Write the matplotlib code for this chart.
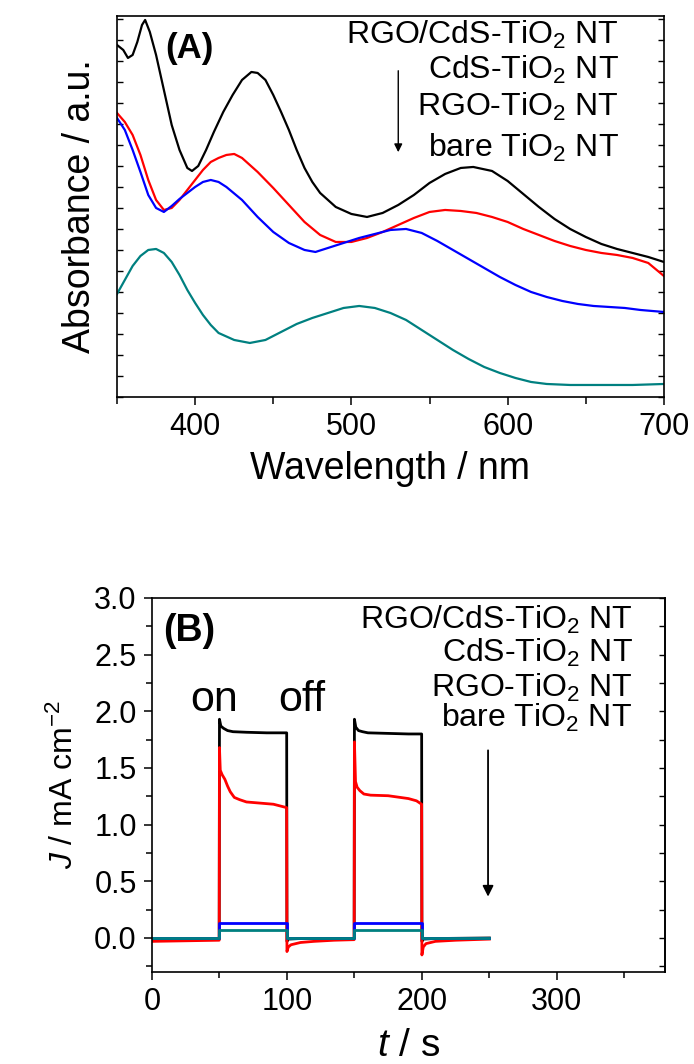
import numpy as np
import matplotlib
matplotlib.use("Agg")
import matplotlib.pyplot as plt
from matplotlib.ticker import MultipleLocator, FormatStrFormatter

plt.rcParams['font.family'] = ['Liberation Sans', 'DejaVu Sans']
plt.rcParams['mathtext.fontset'] = 'custom'
plt.rcParams['mathtext.rm'] = 'Liberation Sans'
plt.rcParams['mathtext.it'] = 'Liberation Sans:italic'
plt.rcParams['mathtext.bf'] = 'Liberation Sans:bold'

# ---- (A) UV-vis absorbance spectra ----
wl_black = [350, 354, 357, 360, 363, 366, 368, 371, 375, 380, 385, 390, 395, 398, 402, 407,
            412, 418, 424, 430, 436, 440, 445, 450, 455, 460, 465, 470, 475, 480, 490, 500,
            510, 520, 530, 540, 550, 560, 570, 578, 590, 600, 610, 620, 630, 640, 650, 660,
            670, 680, 690, 700]
abs_black = [1.76, 1.735, 1.695, 1.71, 1.775, 1.86, 1.885, 1.825, 1.71, 1.535, 1.36, 1.235,
             1.145, 1.13, 1.155, 1.235, 1.325, 1.425, 1.51, 1.585, 1.625, 1.62, 1.585, 1.51,
             1.425, 1.335, 1.235, 1.145, 1.075, 1.02, 0.95, 0.915, 0.9, 0.92, 0.96, 1.01,
             1.07, 1.115, 1.145, 1.15, 1.13, 1.08, 1.015, 0.95, 0.89, 0.84, 0.80, 0.765,
             0.74, 0.72, 0.70, 0.675]

wl_red = [350, 355, 360, 365, 370, 375, 380, 385, 390, 395, 400, 405, 410, 415, 420, 425,
          430, 435, 440, 450, 460, 470, 480, 490, 500, 510, 520, 530, 540, 550, 560, 570,
          580, 590, 600, 610, 620, 630, 640, 650, 660, 670, 680, 690, 700]
abs_red = [1.42, 1.375, 1.31, 1.21, 1.085, 0.985, 0.935, 0.945, 0.985, 1.035, 1.085, 1.135,
           1.175, 1.195, 1.21, 1.215, 1.195, 1.16, 1.125, 1.045, 0.96, 0.875, 0.81, 0.775,
           0.775, 0.795, 0.825, 0.86, 0.895, 0.925, 0.935, 0.93, 0.92, 0.90, 0.875, 0.84,
           0.81, 0.78, 0.755, 0.735, 0.72, 0.71, 0.695, 0.67, 0.605]

wl_blue = [350, 355, 360, 365, 370, 375, 380, 385, 390, 395, 400, 405, 410, 415, 420, 430,
           440, 450, 460, 470, 477, 485, 495, 505, 515, 525, 535, 545, 555, 565, 575, 585,
           595, 605, 615, 625, 635, 645, 655, 665, 675, 685, 700]
abs_blue = [1.395, 1.335, 1.235, 1.125, 1.01, 0.945, 0.925, 0.955, 0.99, 1.02, 1.05, 1.075,
            1.085, 1.075, 1.05, 0.985, 0.90, 0.825, 0.77, 0.735, 0.725, 0.745, 0.77, 0.795,
            0.815, 0.835, 0.84, 0.82, 0.78, 0.735, 0.69, 0.645, 0.60, 0.56, 0.525, 0.50,
            0.48, 0.465, 0.455, 0.45, 0.445, 0.435, 0.425]

wl_teal = [350, 355, 360, 365, 370, 375, 380, 385, 390, 395, 400, 405, 410, 415, 425, 435,
           445, 455, 465, 475, 485, 495, 505, 515, 525, 535, 545, 555, 565, 575, 585, 595,
           605, 615, 625, 640, 660, 680, 700]
abs_teal = [0.515, 0.585, 0.655, 0.705, 0.735, 0.74, 0.72, 0.675, 0.61, 0.535, 0.47, 0.41,
            0.36, 0.32, 0.285, 0.27, 0.285, 0.325, 0.365, 0.395, 0.42, 0.445, 0.455, 0.445,
            0.42, 0.385, 0.335, 0.285, 0.235, 0.19, 0.15, 0.12, 0.095, 0.075, 0.065, 0.06,
            0.06, 0.06, 0.065]

# ---- (B) transient photocurrent, light on/off every 50 s ----
t_black = [0, 49.8, 50, 51, 53, 56, 60, 70, 85, 99.8, 100, 101, 110, 149.8, 150, 151, 153,
           156, 160, 175, 190, 199.8, 200, 201, 210, 250]
j_black = [-0.01, -0.01, 1.93, 1.87, 1.85, 1.83, 1.82, 1.815, 1.81, 1.81, -0.03, -0.01,
           -0.005, -0.005, 1.93, 1.86, 1.83, 1.82, 1.81, 1.805, 1.80, 1.80, -0.03, -0.01,
           -0.005, 0.0]

t_red = [0, 49.8, 50, 50.6, 52, 54, 56, 58, 61, 65, 70, 80, 90, 99.8, 100, 101, 103, 110,
         120, 135, 149.8, 150, 150.8, 152, 154, 157, 162, 175, 190, 196, 199.8, 200, 201,
         203, 210, 225, 250]
j_red = [-0.03, -0.02, 1.68, 1.48, 1.44, 1.40, 1.34, 1.29, 1.24, 1.22, 1.20, 1.19, 1.18,
         1.15, -0.12, -0.08, -0.06, -0.04, -0.03, -0.02, -0.015, 1.73, 1.38, 1.33, 1.30,
         1.27, 1.26, 1.255, 1.23, 1.21, 1.18, -0.15, -0.08, -0.05, -0.03, -0.02, -0.01]

t_step = [0, 50, 50, 100, 100, 150, 150, 200, 200, 250]
j_blue = [0, 0, 0.13, 0.13, 0, 0, 0.13, 0.13, 0, 0]
j_teal = [0, 0, 0.07, 0.07, 0, 0, 0.07, 0.07, 0, 0]

samples = ['RGO/CdS-TiO$_2$ NT', 'CdS-TiO$_2$ NT', 'RGO-TiO$_2$ NT', 'bare TiO$_2$ NT']
teal = '#008080'

fig = plt.figure(figsize=(6.94, 10.64), dpi=100)
axA = fig.add_axes([0.1686, 0.6269, 0.788, 0.3581])
axB = fig.add_axes([0.219, 0.0865, 0.739, 0.3515])

fs_tick = 22
fs_leg = 23

# panel A
axA.plot(wl_black, abs_black, color='black', lw=1.6)
axA.plot(wl_red, abs_red, color='red', lw=1.6)
axA.plot(wl_blue, abs_blue, color='blue', lw=1.6)
axA.plot(wl_teal, abs_teal, color=teal, lw=1.6)
axA.set_xlim(350, 700)
axA.set_ylim(0, 1.905)
axA.xaxis.set_major_locator(MultipleLocator(100))
axA.xaxis.set_minor_locator(MultipleLocator(50))
axA.yaxis.set_major_locator(MultipleLocator(0.105))
axA.tick_params(axis='x', which='major', direction='out', length=6, width=1.1,
                labelsize=fs_tick, pad=5)
axA.tick_params(axis='x', which='minor', direction='out', length=5, width=1.1)
axA.tick_params(axis='y', direction='in', left=True, right=True, labelleft=False,
                length=4, width=1.0)
axA.set_xlabel('Wavelength / nm', fontsize=27, labelpad=6)
axA.set_ylabel('Absorbance / a.u.', fontsize=27, labelpad=14)
for s in axA.spines.values():
    s.set_linewidth(1.2)

axA.text(0.088, 0.915, '(A)', transform=axA.transAxes, fontsize=25,
         fontweight='bold', va='center', ha='left')
for lab, yy in zip(samples, [0.950, 0.858, 0.761, 0.653]):
    axA.text(0.918, yy, lab, transform=axA.transAxes, fontsize=fs_leg,
             ha='right', va='center')
axA.annotate('', xy=(530, 1.21), xytext=(530, 1.645),
             arrowprops=dict(arrowstyle='-|>', color='black', lw=1.0,
                             mutation_scale=12))

# panel B
axB.plot(t_black, j_black, color='black', lw=2.0)
axB.plot(t_red, j_red, color='red', lw=2.0)
axB.plot(t_step, j_blue, color='blue', lw=2.0)
axB.plot(t_step, j_teal, color=teal, lw=2.0)
axB.set_xlim(0, 380)
axB.set_ylim(-0.3, 3.0)
axB.xaxis.set_major_locator(MultipleLocator(100))
axB.xaxis.set_minor_locator(MultipleLocator(50))
axB.yaxis.set_major_locator(MultipleLocator(0.5))
axB.yaxis.set_minor_locator(MultipleLocator(0.25))
axB.yaxis.set_major_formatter(FormatStrFormatter('%.1f'))
axB.tick_params(axis='both', which='major', direction='out', length=6, width=1.1,
                labelsize=fs_tick, pad=5)
axB.tick_params(axis='both', which='minor', direction='out', length=4, width=1.1)
sec = axB.secondary_yaxis('right')
sec.yaxis.set_major_locator(MultipleLocator(0.25))
sec.tick_params(direction='in', length=4, width=1.0, labelright=False)
axB.set_xlabel('$t$ / s', fontsize=28, labelpad=8)
axB.set_ylabel('$J$ / mA cm$^{-2}$', fontsize=23, labelpad=10)
for s in axB.spines.values():
    s.set_linewidth(1.2)
sec.spines['right'].set_linewidth(1.2)

axB.text(8.5, 2.71, '(B)', fontsize=27, fontweight='bold', va='center', ha='left')
axB.text(46, 2.10, 'on', fontsize=31, va='center', ha='center')
axB.text(111, 2.10, 'off', fontsize=31, va='center', ha='center')
for lab, yy in zip(samples, [2.806, 2.515, 2.206, 1.94]):
    axB.text(356, yy, lab, fontsize=fs_leg, ha='right', va='center')
axB.annotate('', xy=(249, 0.34), xytext=(249, 1.68),
             arrowprops=dict(arrowstyle='-|>', color='black', lw=1.3,
                             mutation_scale=16))

fig.savefig('out.png', dpi=100)
